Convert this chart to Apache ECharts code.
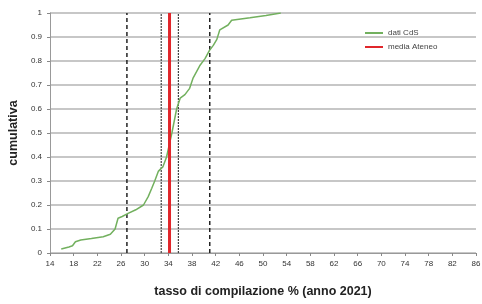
<!DOCTYPE html>
<html>
<head>
<meta charset="utf-8">
<script src="https://cdn.jsdelivr.net/npm/echarts@6/dist/echarts.min.js"></script>
<style>
    html, body { margin: 0; padding: 0; background: #fff; }
    #main { width: 482px; height: 304px; }
</style>
</head>
<body>
<div id="main"></div>
<script>
// curva cumulativa dei CdS
var cdsX = [15.9, 17.2, 17.8, 18.3, 19.2, 21, 23, 24.2, 25, 25.5, 26.2, 27.2, 28.5, 29.8, 30.6, 31.2, 31.7, 32.3, 33.1, 33.7, 34.6, 35.4, 36.0, 36.8, 37.6, 38.2, 39.3, 40.2, 41.0, 41.6, 42.2, 42.7, 44.1, 44.7, 47.8, 50.5, 53.0];
var cdsY = [0.017, 0.025, 0.03, 0.047, 0.054, 0.06, 0.068, 0.078, 0.10, 0.145, 0.152, 0.165, 0.18, 0.2, 0.235, 0.27, 0.30, 0.34, 0.36, 0.40, 0.50, 0.60, 0.645, 0.66, 0.686, 0.73, 0.78, 0.81, 0.846, 0.865, 0.89, 0.93, 0.95, 0.97, 0.98, 0.99, 1.0];
var mediaAteneo = 34.2;
var quartili = [27, 41];      // linee tratteggiate
var intervallo = [32.8, 35.7]; // linee punteggiate
var xMin = 14, xMax = 86, xStep = 4;

var myChart = echarts.init(document.getElementById('main'));

var cdsData = [];
for (var i = 0; i < cdsX.length; i++) {
    cdsData.push([cdsX[i], cdsY[i]]);
}

function vLine(x, color, width, type, name) {
    return {
        name: name,
        type: 'line',
        data: [[x, 0], [x, 1]],
        symbol: 'none',
        silent: true,
        lineStyle: { color: color, width: width, type: type },
        itemStyle: { color: color }
    };
}

var series = [];
for (var q = 0; q < quartili.length; q++) {
    series.push(vLine(quartili[q], '#222', 1.5, [4, 3]));
}
for (var k = 0; k < intervallo.length; k++) {
    series.push(vLine(intervallo[k], '#444', 1.2, [2, 1]));
}
series.push({
    name: 'dati CdS',
    type: 'line',
    data: cdsData,
    symbol: 'none',
    lineStyle: { color: '#72b05e', width: 1.5 },
    itemStyle: { color: '#72b05e' }
});
series.push(vLine(mediaAteneo, '#e0262b', 3, 'solid', 'media Ateneo'));

var option = {
    animation: false,
    grid: { left: 50, right: 6, top: 13, bottom: 51, outerBoundsMode: 'none' },
    legend: {
        data: ['dati CdS', 'media Ateneo'],
        orient: 'vertical',
        left: 360,
        top: 24,
        itemWidth: 18,
        itemHeight: 2,
        itemGap: 6,
        icon: 'rect',
        textStyle: { fontSize: 8, color: '#444', fontFamily: 'Liberation Sans' }
    },
    xAxis: {
        type: 'value',
        min: xMin,
        max: xMax,
        interval: xStep,
        name: 'tasso di compilazione % (anno 2021)',
        nameLocation: 'middle',
        nameGap: 32,
        nameTextStyle: { fontSize: 12.5, fontWeight: 'bold', color: '#222', fontFamily: 'Liberation Sans' },
        axisLine: { lineStyle: { color: '#999', width: 1 } },
        axisTick: { length: 3, lineStyle: { color: '#888' } },
        axisLabel: { fontSize: 8, color: '#333', margin: 7, fontFamily: 'Liberation Sans' },
        splitLine: { show: false }
    },
    yAxis: {
        type: 'value',
        min: 0,
        max: 1,
        interval: 0.1,
        name: 'cumulativa',
        nameLocation: 'middle',
        nameGap: 30,
        nameTextStyle: { fontSize: 12.5, fontWeight: 'bold', color: '#222', fontFamily: 'Liberation Sans' },
        axisLine: { show: true, lineStyle: { color: '#999', width: 1 } },
        axisTick: { show: true, length: 3, lineStyle: { color: '#888' } },
        axisLabel: { fontSize: 8, color: '#333', margin: 8, fontFamily: 'Liberation Sans' },
        splitLine: { lineStyle: { color: '#b5b5b5', width: 1.5 } }
    },
    series: series
};
myChart.setOption(option);
</script>
</body>
</html>
